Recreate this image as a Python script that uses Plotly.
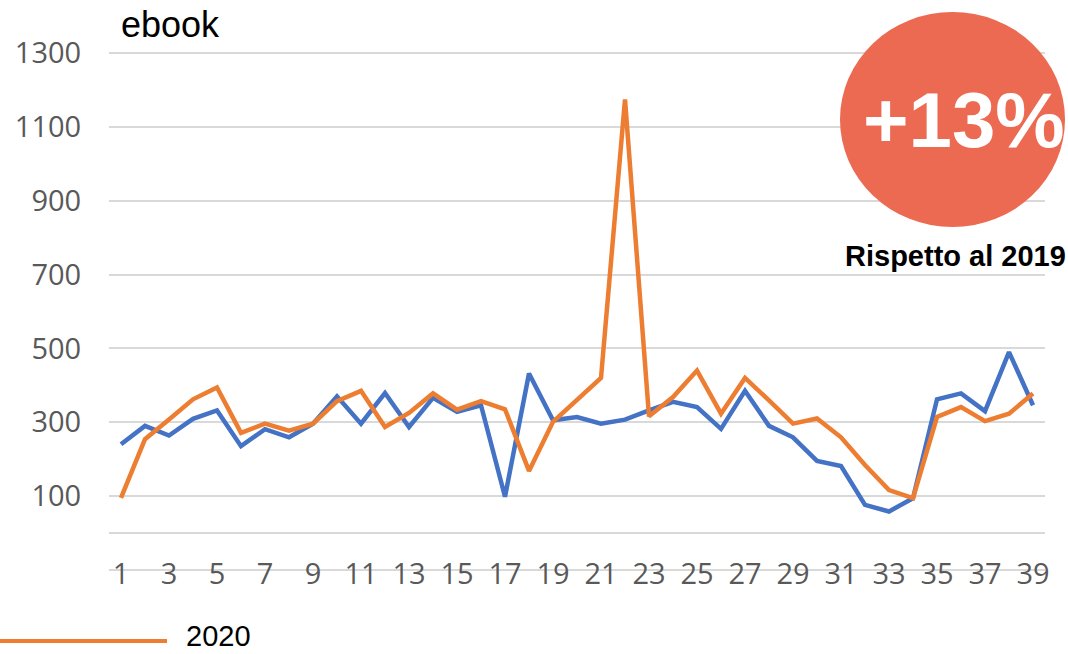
import plotly.graph_objects as go

weeks = list(range(1, 40))
ebook_2019 = [240, 290, 264, 309, 332, 235, 281, 259, 296, 370, 296, 379, 287,
              366, 328, 346, 98, 432, 305, 314, 296, 307, 332, 355, 341, 282,
              385, 290, 259, 195, 181, 76, 58, 94, 362, 378, 330, 490, 346]
ebook_2020 = [95, 254, 307, 362, 394, 271, 296, 277, 296, 357, 385, 287, 325,
              378, 334, 357, 335, 168, 301, 361, 420, 1175, 316, 368, 440, 323,
              420, 359, 296, 310, 259, 184, 116, 94, 314, 341, 303, 323, 378]
x_tick_labels = weeks[::2]
y_tick_values = [-100, 100, 300, 500, 700, 900, 1100, 1300]
y_tick_text = ["" if v < 0 else str(v) for v in y_tick_values]

BLUE = "#4472C4"
ORANGE = "#ED7D31"
GRID = "#D9D9D9"

fig = go.Figure()
fig.add_trace(go.Scatter(x=weeks, y=ebook_2019, mode="lines", name="2019",
                         line=dict(color=BLUE, width=4.5), showlegend=False))
fig.add_trace(go.Scatter(x=weeks, y=ebook_2020, mode="lines", name="2020",
                         line=dict(color=ORANGE, width=4.5), showlegend=False))

W, H = 1068, 654
L, R, T, B = 109, 23, 51, 82
pw, ph = W - L - R, H - T - B


def px(x):
    return (x - L) / pw


def py(y):
    return (H - B - y) / ph


fig.update_layout(
    width=W, height=H,
    margin=dict(l=L, r=R, t=T, b=B),
    plot_bgcolor="white", paper_bgcolor="white",
    font=dict(family="Open Sans, Liberation Sans, Arial", color="#595959"),
    xaxis=dict(range=[0.5, 39.5], tickvals=x_tick_labels,
               ticktext=[str(v) for v in x_tick_labels],
               showgrid=False, zeroline=False, showline=False,
               anchor="free", position=py(548),
               ticks="outside", ticklen=0, tickcolor="rgba(0,0,0,0)",
               tickfont=dict(size=29, color="#595959", family="Open Sans")),
    yaxis=dict(range=[-106, 1306], tickvals=y_tick_values, ticktext=y_tick_text,
               showgrid=True, gridcolor=GRID, gridwidth=2,
               zeroline=True, zerolinecolor=GRID, zerolinewidth=2,
               showline=False, ticks="outside", ticklen=21,
               tickcolor="rgba(0,0,0,0)",
               tickfont=dict(size=29, color="#595959", family="Open Sans")),
)

# badge circle
fig.add_shape(type="circle", xref="paper", yref="paper",
              x0=px(840), x1=px(1065), y0=py(227), y1=py(12),
              fillcolor="#ED6A52", line=dict(width=0), layer="above")
fig.add_annotation(xref="paper", yref="paper", x=px(964), y=py(120),
                   text="<b>+13%</b>", showarrow=False, xanchor="center", yanchor="middle",
                   font=dict(size=78, color="white", family="Liberation Sans, Arial"))
fig.add_annotation(xref="paper", yref="paper", x=px(955), y=py(256),
                   text="<b>Rispetto al 2019</b>", showarrow=False,
                   xanchor="center", yanchor="middle",
                   font=dict(size=29, color="black", family="Liberation Sans, Arial"))
fig.add_annotation(xref="paper", yref="paper", x=px(119), y=py(25),
                   text="ebook", showarrow=False, xanchor="left", yanchor="middle",
                   font=dict(size=36, color="black", family="Liberation Sans, Arial"))

# clipped legend entry
fig.add_shape(type="line", xref="paper", yref="paper",
              x0=px(0), x1=px(167), y0=py(641), y1=py(641),
              line=dict(color=ORANGE, width=4))
fig.add_annotation(xref="paper", yref="paper", x=px(185), y=py(636),
                   text="2020", showarrow=False, xanchor="left", yanchor="middle",
                   borderpad=0,
                   font=dict(size=29, color="black", family="Liberation Sans, Arial"))

fig.write_html("out.html", config={"displayModeBar": False},
               post_script="document.body.style.margin='0';")
